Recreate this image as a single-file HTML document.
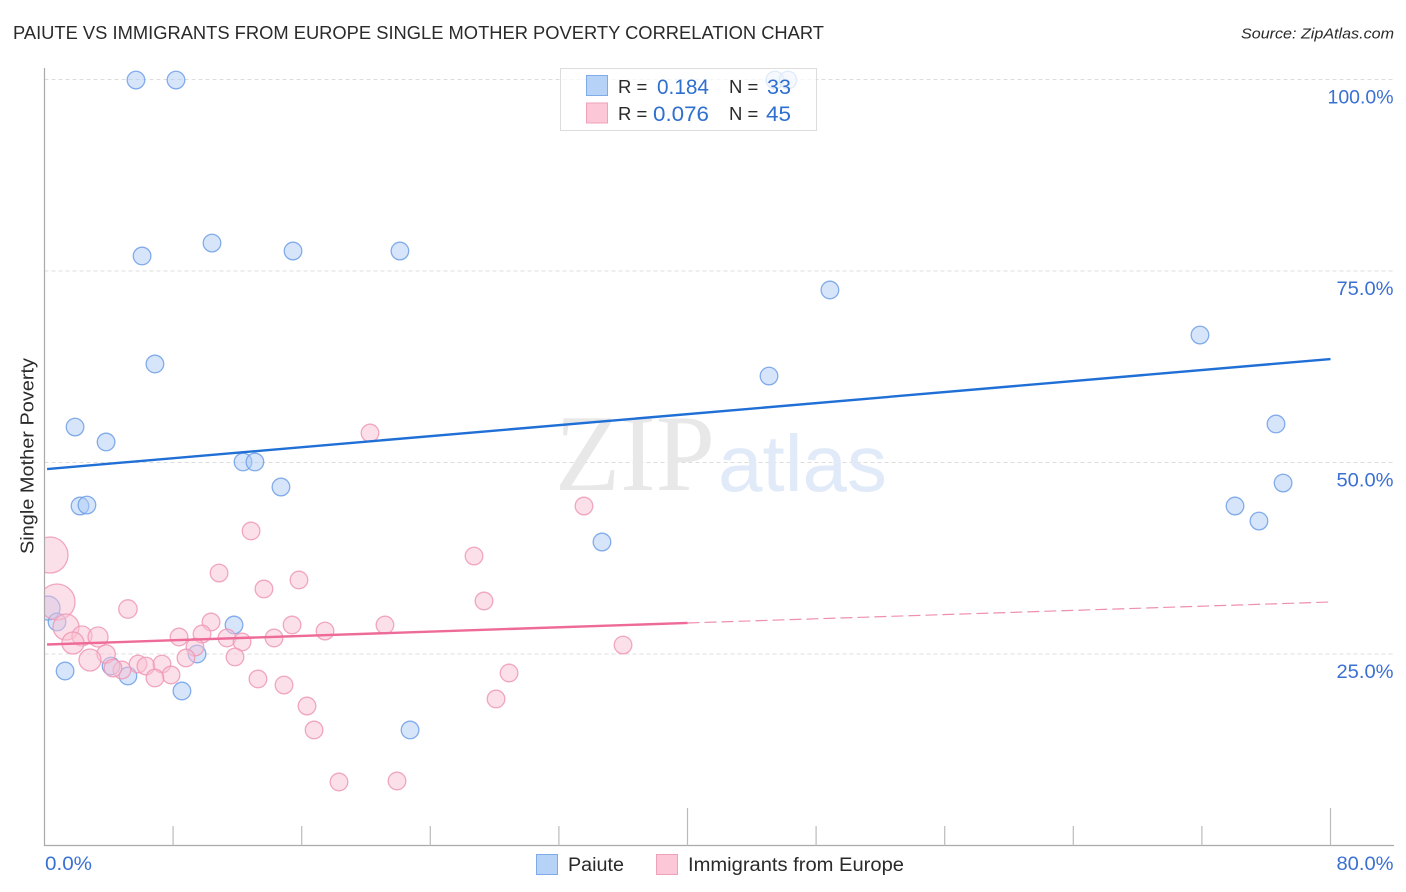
<!DOCTYPE html>
<html lang="en">
<head>
<meta charset="utf-8">
<title>Paiute vs Immigrants from Europe Single Mother Poverty Correlation Chart</title>
<style>
html,body{margin:0;padding:0;background:#fff}
svg{display:block}
text{font-family:"Liberation Sans",sans-serif}
</style>
</head>
<body>
<svg id="chart" xmlns="http://www.w3.org/2000/svg" width="1406" height="892" viewBox="0 0 1406 892">
  <text x="13" y="39" font-size="18.5" fill="#2a2a2a" textLength="811" lengthAdjust="spacingAndGlyphs">PAIUTE VS IMMIGRANTS FROM EUROPE SINGLE MOTHER POVERTY CORRELATION CHART</text>
  <text x="1241" y="38.5" font-size="15" font-style="italic" fill="#2a2a2a" textLength="153" lengthAdjust="spacingAndGlyphs">Source: ZipAtlas.com</text>
  <g id="grid"></g>
  <g>
    <text x="555" y="490" font-size="109" fill="#e8e8e8" textLength="160" lengthAdjust="spacingAndGlyphs" style="font-family:'Liberation Serif',serif">ZIP</text>
    <text x="718" y="491" font-size="80" fill="#e0eaf8" textLength="169" lengthAdjust="spacingAndGlyphs">atlas</text>
  </g>
  <g id="points"></g>
  <rect x="0" y="60" width="44.5" height="786" fill="#fff"/>
  <g id="axes"></g>
  <g id="trends"></g>
  <g id="labels"></g>
  <text transform="translate(33.5,456) rotate(-90)" text-anchor="middle" font-size="18" fill="#2a2a2a" textLength="196" lengthAdjust="spacingAndGlyphs">Single Mother Poverty</text>
  <g>
    <rect x="560.5" y="68.5" width="256" height="62" fill="#fff" fill-opacity="0.75" stroke="#ddd" stroke-width="1"/>
    <rect x="586.5" y="75.5" width="21" height="20" fill="#b7d2f7" stroke="#7fabe8"/>
    <rect x="586.5" y="103" width="21" height="20" fill="#fcc8d8" stroke="#f0a0b9"/>
    <text x="618" y="93" font-size="18.5" fill="#2a2a2a">R =</text>
    <text x="657" y="94" font-size="21.5" fill="#2e6fd0" textLength="52" lengthAdjust="spacingAndGlyphs">0.184</text>
    <text x="729" y="93" font-size="18.5" fill="#2a2a2a">N =</text>
    <text x="767" y="94" font-size="21.5" fill="#2e6fd0" textLength="24" lengthAdjust="spacingAndGlyphs">33</text>
    <text x="618" y="120" font-size="18.5" fill="#2a2a2a">R =</text>
    <text x="653" y="121" font-size="21.5" fill="#2e6fd0" textLength="56" lengthAdjust="spacingAndGlyphs">0.076</text>
    <text x="729" y="120" font-size="18.5" fill="#2a2a2a">N =</text>
    <text x="766" y="121" font-size="21.5" fill="#2e6fd0" textLength="25" lengthAdjust="spacingAndGlyphs">45</text>
  </g>
  <g>
    <rect x="536.5" y="854.5" width="21" height="20" fill="#b7d2f7" stroke="#7fabe8"/>
    <text x="568" y="871" font-size="19" fill="#2a2a2a" textLength="56" lengthAdjust="spacingAndGlyphs">Paiute</text>
    <rect x="656.5" y="854.5" width="21" height="20" fill="#fcc8d8" stroke="#f0a0b9"/>
    <text x="688" y="871" font-size="19" fill="#2a2a2a" textLength="216" lengthAdjust="spacingAndGlyphs">Immigrants from Europe</text>
  </g>
</svg>
<script>
const paiuteX = [5.69,8.18,6.07,10.42,15.46,22.11,48.86,6.87,45.07,71.88,1.90,3.83,12.35,13.09,76.61,14.71,2.21,2.64,77.05,74.06,75.55,34.68,0.22,0.78,11.79,9.49,1.28,4.14,5.19,8.55,22.74,45.44,46.25];
const paiuteY = [99.93,99.93,76.96,78.65,77.61,77.61,72.52,62.86,61.29,66.64,54.63,52.68,50.07,50.07,55.03,46.80,44.32,44.45,47.32,44.32,42.36,39.62,31.0,29.18,28.79,25.0,22.78,23.43,22.13,20.17,15.08,99.93,99.93];
const paiuteRadius = [8.8,8.8,8.8,8.8,8.8,8.8,8.8,8.8,8.8,8.8,8.8,8.8,8.8,8.8,8.8,8.8,8.8,8.8,8.8,8.8,8.8,8.8,12,8.8,8.8,8.8,8.8,8.8,8.8,8.8,8.8,8.8,8.8];
const immigrantsX = [12.85,10.86,13.65,15.83,5.19,0.78,1.34,2.33,1.77,3.33,3.83,2.83,8.37,10.36,9.80,9.36,8.80,11.35,12.29,11.85,14.28,15.40,17.45,13.28,14.90,16.33,16.77,18.32,5.82,6.31,7.31,7.87,6.87,4.82,4.26,20.25,33.56,26.72,27.34,21.18,35.99,28.90,28.09,21.93,0.34];
const immigrantsY = [41.06,35.57,33.49,34.66,30.87,31.79,28.52,27.35,26.44,27.22,25.0,24.22,27.22,29.18,27.61,25.91,24.48,27.09,26.57,24.61,27.09,28.79,28.0,21.74,20.95,18.21,15.08,8.29,23.69,23.43,23.69,22.26,21.87,22.91,23.17,53.85,44.32,37.79,31.92,28.79,26.17,22.52,19.13,8.42,37.92];
const immigrantsRadius = [8.8,8.8,8.8,8.8,9.2,18,13,10,11,10,9.2,11,8.8,8.8,8.8,8.8,8.8,8.8,8.8,8.8,8.8,8.8,8.8,8.8,8.8,8.8,8.8,8.8,8.8,8.8,8.8,8.8,8.8,8.8,8.8,8.8,8.8,8.8,8.8,8.8,8.8,8.8,8.8,8.8,18];
const paiuteTrendX = [0.16,80];
const paiuteTrendY = [49.15,63.51];
const immigrantsSolidX = [0.16,40];
const immigrantsSolidY = [26.24,29.05];
const immigrantsDashX = [40,80];
const immigrantsDashY = [29.05,31.79];
const yTicks = [100,75,50,25];
const yTickLabels = ['100.0%','75.0%','50.0%','25.0%'];
const xTicks = [8,16,24,32,40,48,56,64,72,80];
const xMajorTicks = [40,80];
const xEndLabels = ['0.0%','80.0%'];

const NS = 'http://www.w3.org/2000/svg';
const xScale = v => 44.5 + v * 16.075;
const yScale = v => 845.5 - v * 7.66;
const labelWidth = s => s.length > 5 ? 66 : (s.length === 5 ? 57 : 47);
function make(parent, tag, attrs, text) {
  const el = document.createElementNS(NS, tag);
  for (const k in attrs) el.setAttribute(k, attrs[k]);
  if (text !== undefined) el.textContent = text;
  parent.appendChild(el);
  return el;
}
const grid = document.getElementById('grid');
const axes = document.getElementById('axes');
const points = document.getElementById('points');
const trends = document.getElementById('trends');
const labels = document.getElementById('labels');

yTicks.forEach((t, i) => {
  const line = make(grid, 'line', {x1: 44.5, x2: 1394, y1: yScale(t), y2: yScale(t), stroke: '#dcdcdc', 'stroke-width': 1, 'stroke-dasharray': '4 3'});
  
  
  const label = make(labels, 'text', {x: 1393.5, y: yScale(t) + 24, 'text-anchor': 'end', 'font-size': 19.5, fill: '#3a70d2', textLength: labelWidth(yTickLabels[i]), lengthAdjust: 'spacingAndGlyphs'}, yTickLabels[i]);
  
  
});

const yAxis = make(axes, 'line', {x1: 44.5, x2: 44.5, y1: 68, y2: 846, stroke: '#aaa', 'stroke-width': 1.2});


const xAxis = make(axes, 'line', {x1: 44, x2: 1394, y1: 845.5, y2: 845.5, stroke: '#aaa', 'stroke-width': 1.2});


xTicks.forEach(t => {
  const top = xMajorTicks.includes(t) ? 808 : 826;
  const tick = make(axes, 'line', {x1: xScale(t), x2: xScale(t), y1: top, y2: 845.5, stroke: '#bbb', 'stroke-width': 1.2});
  
  
});

const x0Label = make(labels, 'text', {x: 45, y: 870, 'font-size': 19.5, fill: '#3a70d2', textLength: labelWidth(xEndLabels[0]), lengthAdjust: 'spacingAndGlyphs'}, xEndLabels[0]);


const x1Label = make(labels, 'text', {x: 1393.5, y: 870, 'text-anchor': 'end', 'font-size': 19.5, fill: '#3a70d2', textLength: labelWidth(xEndLabels[1]), lengthAdjust: 'spacingAndGlyphs'}, xEndLabels[1]);



paiuteX.forEach((v, i) => {
  const c = make(points, 'circle', {cx: xScale(v), cy: yScale(paiuteY[i]), r: paiuteRadius[i], fill: '#aecbf5', 'fill-opacity': 0.5, stroke: '#6f9fe6', 'stroke-opacity': 0.85, 'stroke-width': 1.3});
  
  
});
immigrantsX.forEach((v, i) => {
  const c = make(points, 'circle', {cx: xScale(v), cy: yScale(immigrantsY[i]), r: immigrantsRadius[i], fill: '#f9c2d3', 'fill-opacity': 0.5, stroke: '#ee98b5', 'stroke-opacity': 0.85, 'stroke-width': 1.3});
  
  
});

const paiuteLine = make(trends, 'line', {x1: xScale(paiuteTrendX[0]), y1: yScale(paiuteTrendY[0]), x2: xScale(paiuteTrendX[1]), y2: yScale(paiuteTrendY[1]), stroke: '#1f6fd6', 'stroke-width': 2.4});


const immSolid = make(trends, 'line', {x1: xScale(immigrantsSolidX[0]), y1: yScale(immigrantsSolidY[0]), x2: xScale(immigrantsSolidX[1]), y2: yScale(immigrantsSolidY[1]), stroke: '#ee6a98', 'stroke-width': 2.4});


const immDash = make(trends, 'line', {x1: xScale(immigrantsDashX[0]), y1: yScale(immigrantsDashY[0]), x2: xScale(immigrantsDashX[1]), y2: yScale(immigrantsDashY[1]), stroke: '#ee8fb0', 'stroke-width': 1.2, 'stroke-dasharray': '12 5'});


</script>
</body>
</html>
